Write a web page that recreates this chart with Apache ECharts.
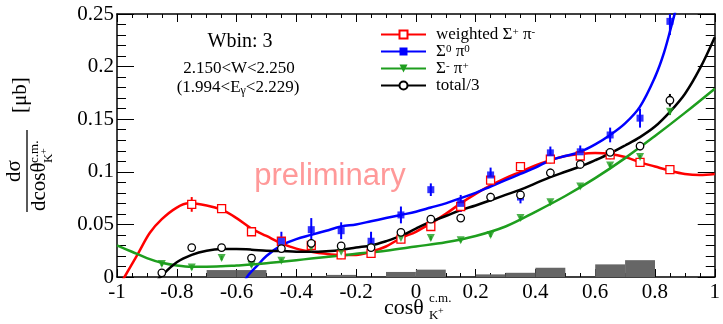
<!DOCTYPE html>
<html>
<head>
<meta charset="utf-8">
<script src="https://cdn.jsdelivr.net/npm/echarts@6/dist/echarts.min.js"></script>
<style>
  html, body { margin: 0; padding: 0; background: #fff; }
  #chart { width: 723px; height: 324px; }
</style>
</head>
<body>
<div id="chart"></div>
<script>
// ---- measured cross sections, Wbin 3 ----
const cosAll   = [-0.85, -0.75, -0.65, -0.55, -0.45, -0.35, -0.25, -0.15, -0.05, 0.05, 0.15, 0.25, 0.35, 0.45, 0.55, 0.65, 0.75, 0.85];

// weighted Sigma+ pi- (starts at -0.75)
const redCos   = cosAll.slice(1);
const redVal   = [0.069, 0.065, 0.043, 0.034, 0.030, 0.021, 0.0225, 0.036, 0.048, 0.067, 0.092, 0.105, 0.112, 0.115, 0.116, 0.109, 0.102];
const redErr   = [0.007, 0.004, 0.004, 0.004, 0.004, 0.004, 0.004, 0.004, 0.004, 0.005, 0.004, 0.004, 0.004, 0.004, 0.004, 0.004, 0.004];

// Sigma0 pi0 (starts at -0.45)
const blueCos  = cosAll.slice(4);
const blueVal  = [0.034, 0.045, 0.044, 0.034, 0.059, 0.083, 0.070, 0.097, 0.076, 0.118, 0.119, 0.135, 0.151, 0.243];
const blueErr  = [0.009, 0.011, 0.008, 0.009, 0.008, 0.006, 0.008, 0.007, 0.006, 0.006, 0.006, 0.007, 0.009, 0.013];

// Sigma- pi+
const greenCos = cosAll;
const greenVal = [0.0124, 0.009, 0.018, 0.0114, 0.0155, 0.028, 0.024, 0.0275, 0.037, 0.037, 0.035, 0.040, 0.056, 0.071, 0.086, 0.106, 0.114, 0.157];
const greenErr = [0.002, 0.002, 0.002, 0.002, 0.002, 0.002, 0.002, 0.002, 0.002, 0.002, 0.002, 0.002, 0.002, 0.002, 0.002, 0.002, 0.002, 0.003];

// total / 3
const blackCos = cosAll;
const blackVal = [0.004, 0.028, 0.028, 0.018, 0.027, 0.032, 0.0295, 0.028, 0.0425, 0.055, 0.056, 0.076, 0.078, 0.099, 0.107, 0.1185, 0.1245, 0.168];
const blackErr = [0.002, 0.003, 0.003, 0.003, 0.003, 0.003, 0.003, 0.003, 0.003, 0.003, 0.003, 0.004, 0.004, 0.004, 0.004, 0.004, 0.004, 0.006];

// ---- fitted curves [cos, value] ----
const redFit = [[-1, -0.012], [-0.975, 0], [-0.93, 0.022], [-0.89, 0.042], [-0.85, 0.055], [-0.8, 0.066], [-0.76, 0.070], [-0.7, 0.068],
  [-0.65, 0.064], [-0.6, 0.056], [-0.55, 0.046], [-0.5, 0.039], [-0.45, 0.032], [-0.4, 0.027], [-0.35, 0.024], [-0.3, 0.022],
  [-0.25, 0.021], [-0.2, 0.021], [-0.15, 0.024], [-0.1, 0.029], [-0.05, 0.037], [0, 0.043], [0.05, 0.051], [0.1, 0.060],
  [0.15, 0.070], [0.2, 0.079], [0.25, 0.087], [0.3, 0.094], [0.35, 0.100], [0.4, 0.106], [0.45, 0.111], [0.5, 0.115],
  [0.55, 0.117], [0.6, 0.1178], [0.65, 0.117], [0.7, 0.114], [0.75, 0.109], [0.8, 0.105], [0.85, 0.101], [0.9, 0.098],
  [0.95, 0.097], [1.0, 0.098]];
const blueFit = [[-0.58, -0.01], [-0.565, 0], [-0.53, 0.011], [-0.5, 0.02], [-0.45, 0.030], [-0.4, 0.036], [-0.35, 0.040],
  [-0.3, 0.044], [-0.25, 0.048], [-0.2, 0.050], [-0.15, 0.053], [-0.1, 0.056], [-0.05, 0.059], [0, 0.062], [0.05, 0.066],
  [0.1, 0.070], [0.15, 0.075], [0.2, 0.080], [0.25, 0.086], [0.3, 0.092], [0.35, 0.098], [0.4, 0.104], [0.45, 0.111],
  [0.5, 0.115], [0.55, 0.119], [0.6, 0.126], [0.65, 0.135], [0.7, 0.146], [0.75, 0.162], [0.8, 0.190], [0.83, 0.213],
  [0.86, 0.244], [0.88, 0.265]];
const greenFit = [[-1, 0.030], [-0.95, 0.024], [-0.9, 0.018], [-0.85, 0.0135], [-0.8, 0.011], [-0.75, 0.0098], [-0.7, 0.0098],
  [-0.65, 0.0102], [-0.6, 0.011], [-0.55, 0.0118], [-0.5, 0.013], [-0.45, 0.0145], [-0.4, 0.016], [-0.35, 0.0175], [-0.3, 0.019],
  [-0.25, 0.0205], [-0.2, 0.022], [-0.1, 0.025], [0, 0.029], [0.1, 0.033], [0.2, 0.039], [0.3, 0.048], [0.4, 0.062],
  [0.5, 0.077], [0.6, 0.094], [0.7, 0.113], [0.8, 0.134], [0.9, 0.156], [1.0, 0.179]];
const blackFit = [[-0.87, -0.005], [-0.855, 0], [-0.8, 0.014], [-0.75, 0.021], [-0.7, 0.025], [-0.65, 0.0265], [-0.6, 0.0265],
  [-0.55, 0.026], [-0.5, 0.025], [-0.45, 0.0247], [-0.4, 0.024], [-0.35, 0.024], [-0.3, 0.0245], [-0.25, 0.0257], [-0.2, 0.028],
  [-0.15, 0.030], [-0.1, 0.034], [-0.05, 0.039], [0, 0.046], [0.05, 0.0526], [0.1, 0.058], [0.15, 0.0637], [0.2, 0.068],
  [0.25, 0.073], [0.3, 0.078], [0.35, 0.083], [0.4, 0.089], [0.45, 0.095], [0.5, 0.100], [0.55, 0.105], [0.6, 0.111],
  [0.65, 0.1175], [0.7, 0.125], [0.75, 0.133], [0.8, 0.143], [0.85, 0.157], [0.9, 0.174], [0.95, 0.198], [1.0, 0.228]];

// ---- systematic-error histogram: [lowEdge, highEdge, height] ----
const sysLo  = [-0.7, -0.6, -0.3, -0.1, 0.0, 0.2, 0.3, 0.4, 0.6, 0.7];
const sysHi  = [-0.6, -0.5, -0.2, 0.0, 0.1, 0.3, 0.4, 0.5, 0.7, 0.8];
const sysVal = [0.0066, 0.0066, 0.002, 0.0048, 0.007, 0.0025, 0.004, 0.0088, 0.012, 0.016];

// ---- axis ticks ----
const xMin = -1, xMax = 1, xStep = 0.2;
const yMin = 0, yMax = 0.25, yStep = 0.05;

const names = ['weighted Σ+ π-', 'Σ0 π0', 'Σ- π+', 'total/3'];
const legendRich = {
  'weighted Σ+ π-': 'weighted Σ{sup|+} π{sup|-}',
  'Σ0 π0': 'Σ{sup|0} π{sup|0}',
  'Σ- π+': 'Σ{sup|-} π{sup|+}',
  'total/3': 'total/3'
};

const RED = '#ff0000', BLUE = '#0000ff', GREEN = '#1e9e1e', BLACK = '#000000';
const SERIF = '"Liberation Serif", "Times New Roman", serif';

function pairs(xs, ys) { return xs.map((x, i) => [x, ys[i]]); }
function errs(xs, ys, es) { return xs.map((x, i) => [x, ys[i] - es[i], ys[i] + es[i]]); }

function errBars(color, width) {
  return function (params, api) {
    const a = api.coord([api.value(0), api.value(1)]);
    const b = api.coord([api.value(0), api.value(2)]);
    return { type: 'line', shape: { x1: a[0], y1: a[1], x2: b[0], y2: b[1] },
             style: { stroke: color, lineWidth: width } };
  };
}

function fitSeries(name, data, color, symbol, rotate) {
  return { type: 'line', name: name, data: data, smooth: 0.35, showSymbol: false,
           symbol: symbol, symbolRotate: rotate || 0, clip: true,
           lineStyle: { color: color, width: 2.5 }, itemStyle: { color: color }, z: 3 };
}
function errSeries(data, color) {
  return { type: 'custom', data: data, renderItem: errBars(color, 2), clip: true, z: 4 };
}
function ptsSeries(data, color, symbol, size, rotate, filled) {
  return { type: 'scatter', data: data, symbol: symbol, symbolSize: size, symbolRotate: rotate || 0,
           itemStyle: filled ? { color: color } : { color: '#fff', borderColor: color, borderWidth: 1.3, opacity: 1 },
           z: 5, clip: true };
}

const chart = echarts.init(document.getElementById('chart'), null, { renderer: 'canvas' });

const axisLine = { show: true, onZero: false, lineStyle: { color: '#000', width: 1.5 } };
const xAxisBase = {
  type: 'value', min: xMin, max: xMax, interval: xStep, splitLine: { show: false },
  axisLine: axisLine,
  axisTick: { show: true, inside: true, length: 8, lineStyle: { color: '#000', width: 1 } },
  minorTick: { show: true, splitNumber: 4, length: 4, lineStyle: { color: '#000', width: 1 } }
};
const yAxisBase = {
  type: 'value', min: yMin, max: yMax, interval: yStep, splitLine: { show: false },
  axisLine: axisLine,
  axisTick: { show: true, inside: true, length: 17, lineStyle: { color: '#000', width: 1 } },
  minorTick: { show: true, splitNumber: 5, length: 9, lineStyle: { color: '#000', width: 1 } }
};

const option = {
  animation: false,
  backgroundColor: '#fff',
  grid: { left: 117, right: 4, top: 14, bottom: 47, containLabel: false },
  xAxis: [
    Object.assign({}, xAxisBase, { position: 'bottom',
      axisLabel: { show: true, margin: 5, color: '#000', fontFamily: SERIF, fontSize: 21,
                   formatter: v => String(Math.round(v * 10) / 10) } }),
    Object.assign({}, xAxisBase, { position: 'top', axisLabel: { show: false } })
  ],
  yAxis: [
    Object.assign({}, yAxisBase, { position: 'left',
      axisLabel: { show: true, margin: 3, color: '#000', fontFamily: SERIF, fontSize: 21,
                   formatter: v => String(+v.toFixed(2)) } }),
    Object.assign({}, yAxisBase, { position: 'right', axisLabel: { show: false } })
  ],
  legend: {
    orient: 'vertical', left: 380, top: 26, itemWidth: 45, itemHeight: 10, itemGap: 0,
    selectedMode: false, padding: 0,
    data: names,
    formatter: n => '{g|}' + legendRich[n],
    textStyle: {
      color: '#000', fontFamily: SERIF, fontSize: 17, lineHeight: 15,
      rich: {
        g: { width: 5 },
        sup: { fontFamily: SERIF, fontSize: 11, lineHeight: 6, verticalAlign: 'top', color: '#000' }
      }
    }
  },
  series: [
    // systematic uncertainty bars along the bottom
    { type: 'custom', z: 1, clip: true,
      data: sysLo.map((lo, i) => [lo, sysHi[i], sysVal[i]]),
      renderItem: function (params, api) {
        const a = api.coord([api.value(0), api.value(2)]);
        const b = api.coord([api.value(1), 0]);
        return { type: 'rect', shape: { x: a[0], y: a[1], width: b[0] - a[0], height: b[1] - a[1] },
                 style: { fill: '#666666' } };
      } },
    fitSeries(names[0], redFit, RED, 'emptyRect'),
    fitSeries(names[1], blueFit, BLUE, 'rect'),
    fitSeries(names[2], greenFit, GREEN, 'triangle', 180),
    fitSeries(names[3], blackFit, BLACK, 'emptyCircle'),
    errSeries(errs(redCos, redVal, redErr), RED),
    errSeries(errs(blueCos, blueVal, blueErr), BLUE),
    errSeries(errs(greenCos, greenVal, greenErr), GREEN),
    errSeries(errs(blackCos, blackVal, blackErr), BLACK),
    ptsSeries(pairs(redCos, redVal), RED, 'rect', 8, 0, false),
    ptsSeries(pairs(blueCos, blueVal), BLUE, 'rect', 7, 0, true),
    ptsSeries(pairs(greenCos, greenVal), GREEN, 'triangle', 8, 180, true),
    ptsSeries(pairs(blackCos, blackVal), BLACK, 'circle', 7.5, 0, false)
  ],
  graphic: [
    { type: 'text', x: 240, y: 42, style: { text: 'Wbin: 3', font: '20px ' + SERIF, fill: '#000', align: 'center', verticalAlign: 'middle' } },
    { type: 'text', x: 239, y: 69, style: { text: '2.150<W<2.250', font: '17px ' + SERIF, fill: '#000', align: 'center', verticalAlign: 'middle' } },
    { type: 'text', x: 238, y: 88, style: { text: '(1.994<E{sub|γ}<2.229)', font: '17px ' + SERIF, fill: '#000', align: 'center', verticalAlign: 'middle',
        rich: { sub: { fontFamily: SERIF, fontSize: 12, lineHeight: 4, verticalAlign: 'bottom' } } } },
    { type: 'text', x: 330, y: 176, z: 2, style: { text: 'preliminary', font: '31px "Liberation Sans", Arial, sans-serif', fill: '#ff9999', align: 'center', verticalAlign: 'middle' } },
    // y-axis title
    { type: 'group', x: 27, y: 171, rotation: Math.PI / 2, children: [
        { type: 'line', shape: { x1: -41, y1: 0, x2: 41, y2: 0 }, style: { stroke: '#000', lineWidth: 1.3 } },
        { type: 'text', x: 0, y: -2, style: { text: 'dσ', font: '21px ' + SERIF, fill: '#000', align: 'center', verticalAlign: 'bottom' } },
        { type: 'text', x: -40, y: 2, style: { text: 'dcosθ', font: '21px ' + SERIF, fill: '#000', align: 'left', verticalAlign: 'top' } },
        { type: 'text', x: 8, y: 1, style: { text: 'c.m.', font: '13px ' + SERIF, fill: '#000', align: 'left', verticalAlign: 'top' } },
        { type: 'text', x: 8, y: 15, style: { text: 'K', font: '13px ' + SERIF, fill: '#000', align: 'left', verticalAlign: 'top' } },
        { type: 'text', x: 17, y: 12, style: { text: '+', font: '10px ' + SERIF, fill: '#000', align: 'left', verticalAlign: 'top' } },
        { type: 'text', x: 58, y: 4, style: { text: '[μb]', font: '21px ' + SERIF, fill: '#000', align: 'left', verticalAlign: 'bottom' } }
      ] },
    // x-axis title
    { type: 'group', x: 384, y: 297, children: [
        { type: 'text', x: 0, y: 0, style: { text: 'cosθ', font: '22px ' + SERIF, fill: '#000', align: 'left', verticalAlign: 'top' } },
        { type: 'text', x: 45, y: -5, style: { text: 'c.m.', font: '13px ' + SERIF, fill: '#000', align: 'left', verticalAlign: 'top' } },
        { type: 'text', x: 45, y: 12, style: { text: 'K', font: '13px ' + SERIF, fill: '#000', align: 'left', verticalAlign: 'top' } },
        { type: 'text', x: 54, y: 9, style: { text: '+', font: '10px ' + SERIF, fill: '#000', align: 'left', verticalAlign: 'top' } }
      ] }
  ]
};

chart.setOption(option);
</script>
</body>
</html>
